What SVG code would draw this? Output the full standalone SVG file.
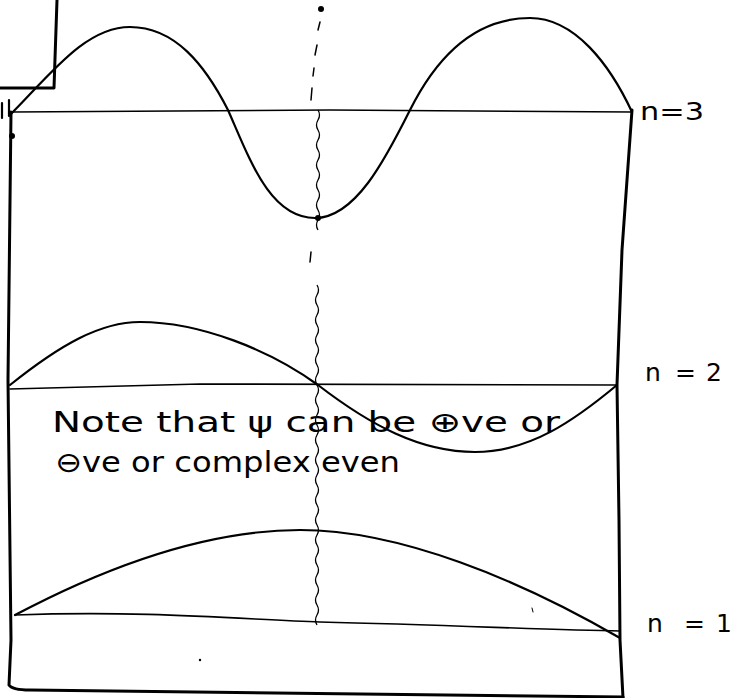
<svg xmlns="http://www.w3.org/2000/svg" width="731" height="698" viewBox="0 0 731 698">
<style>
.ln{fill:none;stroke:#000;stroke-width:2.2;stroke-linecap:round;stroke-linejoin:round}
.bx{fill:none;stroke:#000;stroke-width:3;stroke-linecap:round;stroke-linejoin:round}
.wv{fill:none;stroke:#000;stroke-width:1.3}
.lb{font-family:"DejaVu Sans","Liberation Sans",sans-serif;font-size:25px;fill:#000}
.nt{font-family:"DejaVu Sans","Liberation Sans",sans-serif;font-size:28px;fill:#000}
</style>
<rect width="731" height="698" fill="#fff"/>
<g id="box">
<path class="bx" d="M57,0 L54,88 L0,88"/>
<path class="bx" d="M11,112 L8,380 L11,640 L9,685 Q12,690 30,690 L623,697"/>
<path class="bx" d="M632,110 L622,250 L617,385 L619,520 L620,640 L623,698"/>
<path class="ln" d="M2,103 L2,118 M9,100 L9,116"/>
<circle cx="12" cy="136" r="3"/>
</g>
<g id="n3">
<path class="ln" d="M12,112 L330,110 L632,112" style="stroke-width:1.6"/>
<path class="ln" d="M10,115 C50,75 85,27 130,27 C175,27 205,65 228,110 C250,160 270,218 315,218 C355,218 385,160 410,110 C440,50 480,18 530,18 C575,18 610,65 632,112"/>
<circle cx="318" cy="218" r="3"/>
<text class="lb" x="640" y="120" textLength="64" lengthAdjust="spacingAndGlyphs">n=3</text>
</g>
<g id="n2">
<path class="ln" d="M10,389 L200,384 L617,385" style="stroke-width:1.6"/>
<path class="ln" d="M10,385 C60,345 100,322 140,322 C200,322 270,350 318,385 C370,425 420,452 475,452 C530,452 575,420 617,385"/>
<text class="lb" x="645" y="381">n<tspan x="675">=</tspan><tspan x="706">2</tspan></text>
</g>
<g id="n1">
<path class="ln" d="M15,615 C150,610 250,620 320,622 C450,625 550,630 620,631" style="stroke-width:1.6"/>
<path class="ln" d="M15,615 C100,570 200,530 300,530 C400,530 520,580 620,638"/>
<text class="lb" x="647" y="632">n<tspan x="684">=</tspan><tspan x="716">1</tspan></text>
</g>
<g id="axis">
<circle cx="321" cy="9" r="3"/>
<path class="ln" d="M320,22 L318,30 M317,45 L315,55 M314,68 L313,76 M312,88 L311,100" style="stroke-width:1.5"/>
<path class="wv" d="M318,110 q3,5 0,10 q-3,5 0,10 q3,5 0,10 q-3,5 0,10 q3,5 0,10 q-3,5 0,10 q3,5 0,10 q-3,5 0,10 q3,5 0,10 q-3,5 0,10 q3,5 0,10 q-3,5 0,10"/>
<path class="ln" d="M311,252 L310,262" style="stroke-width:1.5"/>
<path class="wv" d="M317,285 q3,5 0,10 q-3,5 0,10 q3,5 0,10 q-3,5 0,10 q3,5 0,10 q-3,5 0,10 q3,5 0,10 q-3,5 0,10 q3,5 0,10 q-3,5 0,10 q3,5 0,10 q-3,5 0,10 q3,5 0,10 q-3,5 0,10 q3,5 0,10 q-3,5 0,10 q3,5 0,10 q-3,5 0,10 q3,5 0,10 q-3,5 0,10 q3,5 0,10 q-3,5 0,10 q3,5 0,10 q-3,5 0,10 q3,5 0,10 q-3,5 0,10 q3,5 0,10 q-3,5 0,10 q3,5 0,10 q-3,5 0,10 q3,5 0,10 q-3,5 0,10 q3,5 0,10 q-3,5 0,10"/>
<circle cx="200" cy="660" r="1.2"/>
<path class="ln" d="M532,608 L533,612" style="stroke-width:1"/>
</g>
<g id="note">
<text class="nt" x="52" y="432" textLength="508" lengthAdjust="spacingAndGlyphs">Note that ψ can be ⊕ve or</text>
<text class="nt" x="55" y="472" textLength="345" lengthAdjust="spacingAndGlyphs">⊖ve or complex even</text>
</g>
</svg>
